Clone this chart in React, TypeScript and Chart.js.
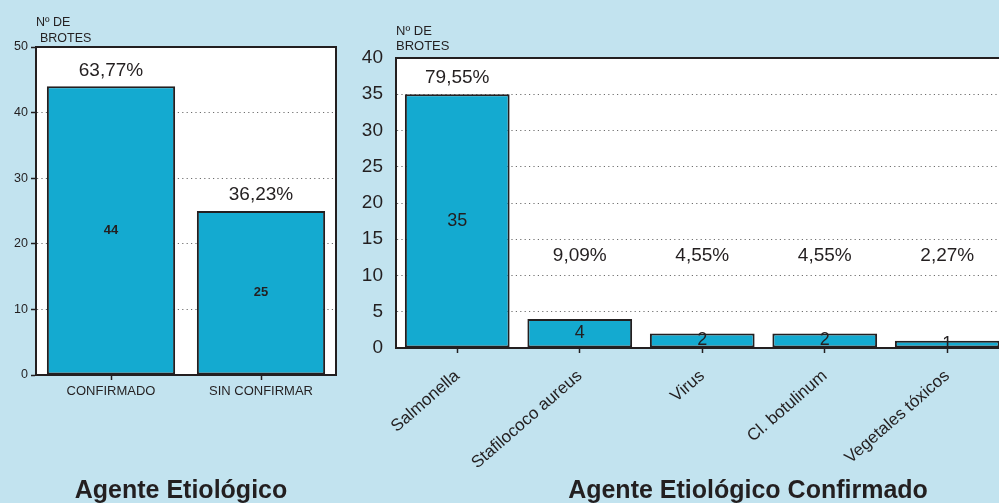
import React, { useEffect, useRef } from 'react';
import { Chart, registerables } from 'chart.js';

Chart.register(...registerables);

// ---------- data ----------
const leftCategories = ['CONFIRMADO', 'SIN CONFIRMAR'];
const leftValues = [44, 25];
const leftPercents = ['63,77%', '36,23%'];
const leftMax = 50;
const leftStep = 10;

const rightCategories = ['Salmonella', 'Stafilococo aureus', 'Virus', 'Cl. botulinum', 'Vegetales tóxicos'];
const rightValues = [35, 4, 2, 2, 1];
const rightPercents = ['79,55%', '9,09%', '4,55%', '4,55%', '2,27%'];
const rightMax = 40;
const rightStep = 5;

const headerLines = ['Nº DE', 'BROTES'];
const leftTitle = 'Agente Etiológico';
const rightTitle = 'Agente Etiológico Confirmado';

// ---------- style ----------
const FONT = '"Liberation Sans", Arial, Helvetica, sans-serif';
const INK = '#231f20';
const BG = '#c2e3ef';
const BAR = '#14aad0';
const GRID = '#6e6e6e';

Chart.defaults.font.family = FONT;
Chart.defaults.color = INK;

const decorPlugin = {
  id: 'decor',
  beforeDraw(chart: any) {
    const { ctx, chartArea: a } = chart;
    ctx.save();
    ctx.fillStyle = '#ffffff';
    ctx.fillRect(a.left, a.top, a.right - a.left, a.bottom - a.top);
    ctx.restore();
  },
  afterDatasetsDraw(chart: any, _args: any, opts: any) {
    const { ctx, chartArea: a } = chart;
    const meta = chart.getDatasetMeta(0);
    const yScale = chart.scales.y;
    const values = chart.data.datasets[0].data as number[];
    ctx.save();
    ctx.strokeStyle = INK;
    ctx.lineWidth = 2;
    ctx.strokeRect(a.left, a.top, a.right - a.left, a.bottom - a.top);

    ctx.fillStyle = INK;
    ctx.textAlign = 'center';
    ctx.textBaseline = 'middle';
    meta.data.forEach((bar: any, i: number) => {
      const { x, y, base } = bar.getProps(['x', 'y', 'base'], true);
      ctx.font = opts.valueFont;
      ctx.fillText(String(values[i]), x, (y + base) / 2);
      const anchor = Math.min(y, yScale.getPixelForValue(opts.minPctValue));
      ctx.font = opts.pctFont;
      ctx.fillText(opts.percents[i], x, anchor - opts.pctGap);
    });

    ctx.textAlign = 'left';
    ctx.textBaseline = 'alphabetic';
    ctx.font = opts.headerFont;
    opts.header.forEach((line: string, i: number) => {
      ctx.fillText(line, opts.headerPos[i][0], opts.headerPos[i][1]);
    });

    ctx.textAlign = 'center';
    ctx.font = `bold 25px ${FONT}`;
    ctx.fillText(opts.title, opts.titlePos[0], opts.titlePos[1]);
    ctx.restore();
  },
};

function makeConfig(p: {
  categories: string[];
  values: number[];
  percents: string[];
  max: number;
  step: number;
  yWidth: number;
  xHeight: number;
  padding: any;
  yFont: number;
  yPad: number;
  yTicks: boolean;
  xFont: number;
  xRot: number;
  xPad: number;
  valueFont: string;
  minPctValue: number;
  headerFont: string;
  headerPos: number[][];
  titlePos: number[];
  title: string;
}): any {
  return {
    type: 'bar',
    data: {
      labels: p.categories,
      datasets: [
        {
          data: p.values,
          backgroundColor: BAR,
          borderColor: INK,
          borderWidth: 2,
          borderSkipped: false,
          barPercentage: 0.855,
          categoryPercentage: 1,
        },
      ],
    },
    options: {
      responsive: false,
      animation: false,
      devicePixelRatio: 1,
      layout: { padding: p.padding },
      plugins: {
        legend: { display: false },
        tooltip: { enabled: false },
        title: { display: false },
        decor: {
          percents: p.percents,
          valueFont: p.valueFont,
          pctFont: `19px ${FONT}`,
          pctGap: 16,
          minPctValue: p.minPctValue,
          header: headerLines,
          headerFont: p.headerFont,
          headerPos: p.headerPos,
          title: p.title,
          titlePos: p.titlePos,
        },
      },
      scales: {
        x: {
          type: 'category',
          ticks: {
            font: { size: p.xFont },
            color: INK,
            padding: p.xPad,
            minRotation: p.xRot,
            maxRotation: p.xRot,
            autoSkip: false,
          },
          grid: {
            display: true,
            drawOnChartArea: false,
            drawTicks: true,
            offset: false,
            tickLength: 5,
            tickColor: INK,
            tickWidth: 1.5,
          },
          border: { display: true, color: INK, width: 2 },
          afterFit: (s: any) => {
            s.height = p.xHeight;
          },
        },
        y: {
          type: 'linear',
          min: 0,
          max: p.max,
          ticks: {
            stepSize: p.step,
            font: { size: p.yFont },
            color: INK,
            padding: p.yPad,
          },
          grid: {
            display: true,
            color: GRID,
            lineWidth: 1,
            drawTicks: p.yTicks,
            tickLength: 5,
            tickColor: INK,
            tickWidth: 1.5,
          },
          border: { display: true, color: INK, width: 2, dash: [1.2, 3.2] },
          afterFit: (s: any) => {
            s.width = p.yWidth;
          },
        },
      },
    },
    plugins: [decorPlugin],
  };
}

function BarChart({ width, height, left, config }: { width: number; height: number; left: number; config: any }) {
  const ref = useRef<HTMLCanvasElement | null>(null);
  useEffect(() => {
    if (!ref.current) return;
    const chart = new Chart(ref.current, config);
    return () => chart.destroy();
  }, [config]);
  return (
    <canvas
      ref={ref}
      width={width}
      height={height}
      style={{ position: 'absolute', left, top: 0, width, height, display: 'block' }}
    />
  );
}

const leftConfig = makeConfig({
  categories: leftCategories,
  values: leftValues,
  percents: leftPercents,
  max: leftMax,
  step: leftStep,
  yWidth: 36,
  xHeight: 128,
  padding: { top: 47, right: 14, bottom: 0, left: 0 },
  yFont: 12.5,
  yPad: 3,
  yTicks: true,
  xFont: 13,
  xRot: 0,
  xPad: 4,
  valueFont: `bold 13px ${FONT}`,
  minPctValue: 0,
  headerFont: `12.5px ${FONT}`,
  headerPos: [
    [36, 26],
    [40, 41.5],
  ],
  titlePos: [181, 498],
  title: leftTitle,
});

const rightConfig = makeConfig({
  categories: rightCategories,
  values: rightValues,
  percents: rightPercents,
  max: rightMax,
  step: rightStep,
  yWidth: 46,
  xHeight: 155,
  padding: { top: 58, right: 11.5, bottom: 0, left: 0 },
  yFont: 19,
  yPad: 13,
  yTicks: false,
  xFont: 17,
  xRot: 41,
  xPad: 13,
  valueFont: `18px ${FONT}`,
  minPctValue: 10.5,
  headerFont: `13px ${FONT}`,
  headerPos: [
    [46, 35],
    [46, 50],
  ],
  titlePos: [398, 498],
  title: rightTitle,
});

export default function App() {
  return (
    <div
      style={{
        position: 'fixed',
        left: 0,
        top: 0,
        width: 999,
        height: 503,
        overflow: 'hidden',
        background: BG,
      }}
    >
      <BarChart width={350} height={503} left={0} config={leftConfig} />
      <BarChart width={670} height={503} left={350} config={rightConfig} />
    </div>
  );
}
